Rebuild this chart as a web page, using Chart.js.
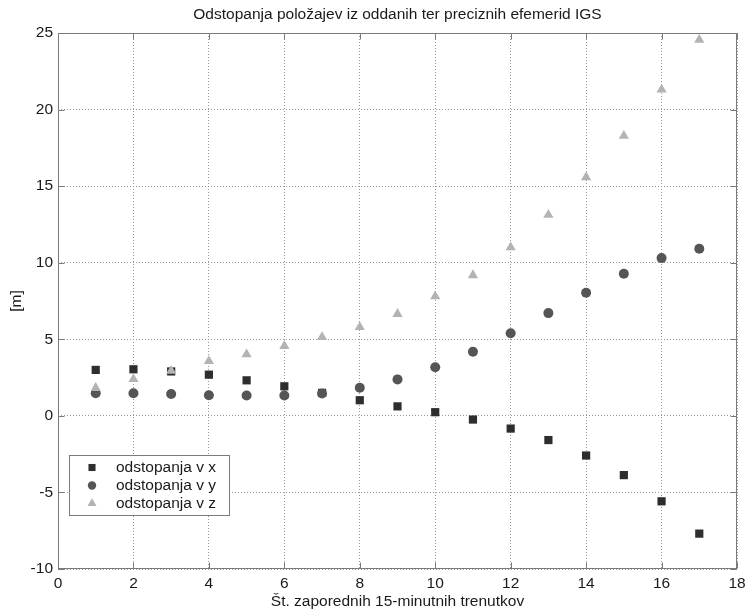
<!DOCTYPE html>
<html>
<head>
<meta charset="utf-8">
<script src="https://cdn.jsdelivr.net/npm/chart.js@4"></script>
<style>
    body { margin: 0; background: #fff; }
    #wrap { width: 747px; height: 612px; }
</style>
</head>
<body>
<div id="wrap"><canvas id="chart1" width="747" height="612"></canvas></div>
<script>
// data
const epochs = [1, 2, 3, 4, 5, 6, 7, 8, 9, 10, 11, 12, 13, 14, 15, 16, 17];
const devX = [3.0, 3.04, 2.9, 2.69, 2.32, 1.93, 1.5, 1.02, 0.62, 0.24, -0.24, -0.83, -1.58, -2.59, -3.87, -5.58, -7.69];
const devY = [1.48, 1.48, 1.43, 1.35, 1.33, 1.33, 1.46, 1.83, 2.38, 3.17, 4.19, 5.39, 6.71, 8.04, 9.28, 10.3, 10.91];
const devZ = [1.82, 2.4, 2.94, 3.58, 4.02, 4.56, 5.14, 5.8, 6.65, 7.8, 9.18, 11.0, 13.13, 15.58, 18.28, 21.3, 24.55];
const seriesNames = ['odstopanja v x', 'odstopanja v y', 'odstopanja v z'];
const xTicks = [0, 2, 4, 6, 8, 10, 12, 14, 16, 18];
const yTicks = [-10, -5, 0, 5, 10, 15, 20, 25];

const toPoints = (vals) => epochs.map((e, i) => ({x: e, y: vals[i]}));
const font = "'Liberation Sans', Arial, sans-serif";
const fs = 15.5;

const styles = [
    {color: '#2e2e2e', pointStyle: 'rect', radius: 5.8, legendRadius: 5},
    {color: '#555555', pointStyle: 'circle', radius: 5, legendRadius: 4.2},
    {color: '#b3b3b3', pointStyle: 'triangle', radius: 5.9, legendRadius: 5.2}
];

// centre the title over the plot area (as MATLAB does)
const titleCenterPlugin = {
    id: 'titleCenter',
    afterLayout(chart) {
        const tb = chart.titleBlock;
        if (tb) {
            tb.left = chart.chartArea.left;
            tb.right = chart.chartArea.right;
            tb.width = tb.right - tb.left;
        }
    }
};

// frame + inward ticks like the original
const framePlugin = {
    id: 'frame',
    afterDraw(chart) {
        const {ctx, chartArea: a, scales} = chart;
        const L = Math.round(a.left) + 0.5, R = Math.round(a.right) - 0.5;
        const T = Math.round(a.top) + 0.5, B = Math.round(a.bottom) - 0.5;
        ctx.save();
        ctx.strokeStyle = '#7a7a7a';
        ctx.lineWidth = 1;
        ctx.setLineDash([]);
        ctx.strokeRect(L, T, R - L, B - T);
        ctx.beginPath();
        xTicks.forEach(v => {
            const px = Math.round(scales.x.getPixelForValue(v)) + 0.5;
            ctx.moveTo(px, B); ctx.lineTo(px, B - 6);
            ctx.moveTo(px, T); ctx.lineTo(px, T + 6);
        });
        yTicks.forEach(v => {
            const py = Math.round(scales.y.getPixelForValue(v)) + 0.5;
            ctx.moveTo(L, py); ctx.lineTo(L + 6, py);
            ctx.moveTo(R, py); ctx.lineTo(R - 6, py);
        });
        ctx.stroke();
        ctx.restore();
    }
};

// legend box inside the plot, bottom left
const boxLegendPlugin = {
    id: 'boxLegend',
    afterDraw(chart) {
        const ctx = chart.ctx;
        const left = 69.5, top = 455.5, w = 160, h = 60;
        ctx.save();
        ctx.fillStyle = '#ffffff';
        ctx.fillRect(left, top, w, h);
        ctx.strokeStyle = '#7a7a7a';
        ctx.lineWidth = 1;
        ctx.strokeRect(left, top, w, h);
        const rows = [467.5, 485.5, 503.5];
        seriesNames.forEach((name, i) => {
            const s = styles[i];
            ctx.fillStyle = s.color;
            Chart.helpers.drawPoint(ctx, {pointStyle: s.pointStyle, radius: s.legendRadius, rotation: 0, borderWidth: 0}, 92, rows[i]);
            ctx.fillStyle = '#1a1a1a';
            ctx.font = fs + 'px ' + font;
            ctx.textBaseline = 'middle';
            ctx.textAlign = 'left';
            ctx.fillText(name, 116, rows[i]);
        });
        ctx.restore();
    }
};

const ctx1 = document.getElementById('chart1');
const data = {
    datasets: [devX, devY, devZ].map((vals, i) => ({
        label: seriesNames[i],
        data: toPoints(vals),
        pointStyle: styles[i].pointStyle,
        pointRadius: styles[i].radius,
        pointHoverRadius: styles[i].radius,
        pointBackgroundColor: styles[i].color,
        pointBorderWidth: 0,
        backgroundColor: styles[i].color,
        borderColor: styles[i].color,
        showLine: false,
        order: 3 - i
    }))
};

const chart1 = new Chart(ctx1, {
    type: 'scatter',
    data: data,
    options: {
        responsive: false,
        animation: false,
        devicePixelRatio: 1,
        layout: {padding: {left: 0, right: 10, top: 0, bottom: 0}},
        plugins: {
            legend: {display: false},
            tooltip: {enabled: false},
            title: {
                display: true,
                text: 'Odstopanja položajev iz oddanih ter preciznih efemerid IGS',
                color: '#1a1a1a',
                font: {family: font, size: fs, weight: 'normal', lineHeight: 1.2},
                padding: {top: 5.7, bottom: 8.7}
            }
        },
        scales: {
            x: {
                type: 'linear',
                min: 0,
                max: 18,
                afterBuildTicks: (scale) => { scale.ticks = xTicks.map(v => ({value: v})); },
                afterFit: (scale) => {
                    scale.height = 43;
                    scale.paddingLeft = 0;
                    scale.paddingRight = 0;
                },
                ticks: {color: '#1a1a1a', font: {family: font, size: fs}, padding: 5, maxRotation: 0},
                grid: {color: '#9a9a9a', drawTicks: false},
                border: {display: false, dash: [1, 2]},
                title: {
                    display: true,
                    text: 'Št. zaporednih 15-minutnih trenutkov',
                    color: '#1a1a1a',
                    font: {family: font, size: fs, lineHeight: 1.2},
                    padding: {top: 1, bottom: 1}
                }
            },
            y: {
                type: 'linear',
                min: -10,
                max: 25,
                afterBuildTicks: (scale) => { scale.ticks = yTicks.map(v => ({value: v})); },
                afterFit: (scale) => {
                    scale.width = 58;
                    scale.paddingTop = 0;
                    scale.paddingBottom = 0;
                },
                ticks: {color: '#1a1a1a', font: {family: font, size: fs}, padding: 5},
                grid: {color: '#9a9a9a', drawTicks: false},
                border: {display: false, dash: [1, 2]},
                title: {
                    display: true,
                    text: '[m]',
                    color: '#1a1a1a',
                    font: {family: font, size: fs, lineHeight: 1.2},
                    padding: {top: 7, bottom: 7}
                }
            }
        }
    },
    plugins: [titleCenterPlugin, framePlugin, boxLegendPlugin]
});
</script>
</body>
</html>
